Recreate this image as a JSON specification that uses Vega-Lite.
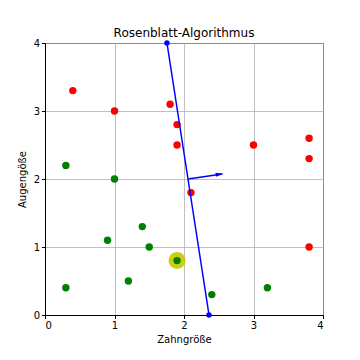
{
  "$schema": "https://vega.github.io/schema/vega-lite/v6.json",
  "autosize": "none",
  "width": 278,
  "height": 272,
  "padding": {"left": 45, "top": 43, "right": 37, "bottom": 45},
  "title": {"text": "Rosenblatt-Algorithmus", "font": "DejaVu Sans", "fontSize": 12, "fontWeight": "normal", "color": "black", "offset": -2},
  "config": {
    "view": {"stroke": "black", "strokeWidth": 1},
    "axis": {
      "labelFont": "DejaVu Sans", "labelFontSize": 10, "labelColor": "black",
      "titleFont": "DejaVu Sans", "titleFontSize": 10, "titleFontWeight": "normal", "titleColor": "black",
      "domainColor": "black", "tickColor": "black", "tickSize": 3.5,
      "gridColor": "#b0b0b0", "gridOpacity": 1, "gridWidth": 0.8
    }
  },
  "datasets": {
    "pts": [
      {"x": 0.4, "y": 3.3, "klasse": "rot"},
      {"x": 1.0, "y": 3.0, "klasse": "rot"},
      {"x": 1.8, "y": 3.1, "klasse": "rot"},
      {"x": 1.9, "y": 2.8, "klasse": "rot"},
      {"x": 1.9, "y": 2.5, "klasse": "rot"},
      {"x": 2.1, "y": 1.8, "klasse": "rot"},
      {"x": 3.0, "y": 2.5, "klasse": "rot"},
      {"x": 3.8, "y": 2.6, "klasse": "rot"},
      {"x": 3.8, "y": 2.3, "klasse": "rot"},
      {"x": 3.8, "y": 1.0, "klasse": "rot"},
      {"x": 0.3, "y": 2.2, "klasse": "grün"},
      {"x": 1.0, "y": 2.0, "klasse": "grün"},
      {"x": 0.9, "y": 1.1, "klasse": "grün"},
      {"x": 1.4, "y": 1.3, "klasse": "grün"},
      {"x": 1.5, "y": 1.0, "klasse": "grün"},
      {"x": 1.9, "y": 0.8, "klasse": "grün"},
      {"x": 1.2, "y": 0.5, "klasse": "grün"},
      {"x": 0.3, "y": 0.4, "klasse": "grün"},
      {"x": 2.4, "y": 0.3, "klasse": "grün"},
      {"x": 3.2, "y": 0.4, "klasse": "grün"}
    ],
    "linie": [
      {"x": 1.755, "y": 4.0},
      {"x": 2.36, "y": 0.0}
    ],
    "pfeil": [
      {"x": 2.06, "y": 2.0},
      {"x": 2.55, "y": 2.075}
    ],
    "spitze": [{"x": 2.57, "y": 2.078}],
    "markiert": [{"x": 1.9, "y": 0.8}]
  },
  "encoding": {
    "x": {"field": "x", "type": "quantitative", "scale": {"domain": [0, 4], "nice": false}, "axis": {"title": "Zahngröße", "values": [0, 1, 2, 3, 4], "format": "d", "titlePadding": 4}},
    "y": {"field": "y", "type": "quantitative", "scale": {"domain": [0, 4], "nice": false}, "axis": {"title": "Augengöße", "values": [0, 1, 2, 3, 4], "format": "d", "titlePadding": 6}}
  },
  "layer": [
    {
      "data": {"name": "markiert"},
      "mark": {"type": "circle", "color": "#c8c800", "opacity": 0.9, "size": 290}
    },
    {
      "data": {"name": "pts"},
      "mark": {"type": "circle", "opacity": 1, "size": 55},
      "encoding": {
        "color": {"field": "klasse", "type": "nominal", "scale": {"domain": ["rot", "grün"], "range": ["#ff0000", "#008000"]}, "legend": null}
      }
    },
    {
      "data": {"name": "linie"},
      "mark": {"type": "line", "color": "#0000ff", "strokeWidth": 1.5, "clip": false, "point": {"filled": true, "color": "#0000ff", "size": 30}},
      "encoding": {}
    },
    {
      "data": {"name": "pfeil"},
      "mark": {"type": "line", "color": "#0000ff", "strokeWidth": 1.5},
      "encoding": {}
    },
    {
      "data": {"name": "spitze"},
      "mark": {"type": "point", "shape": "M-2,-0.5L0,0L-2,0.5Z", "filled": true, "color": "#0000ff", "opacity": 1, "size": 64, "angle": -8}
    }
  ]
}
